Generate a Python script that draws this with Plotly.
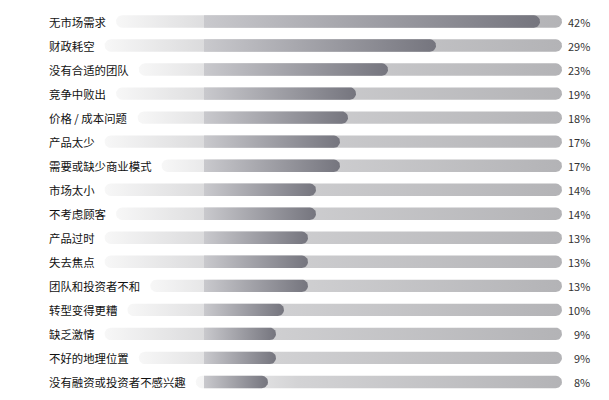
import numpy as np
import plotly.graph_objects as go

# ── Data ──────────────────────────────────────────────
reasons = [
    "无市场需求", "财政耗空", "没有合适的团队", "竞争中败出", "价格 / 成本问题",
    "产品太少", "需要或缺少商业模式", "市场太小", "不考虑顾客", "产品过时",
    "失去焦点", "团队和投资者不和", "转型变得更糟", "缺乏激情", "不好的地理位置",
    "没有融资或投资者不感兴趣",
]
shares = [42, 29, 23, 19, 18, 17, 17, 14, 14, 13, 13, 13, 10, 9, 9, 8]
track_max = 44.75

# ── Geometry helpers (page pixel -> axis units) ───────
# the page puts the plot 8px in from the top-left corner (body margin)
W, H = 609, 400
PAGE_OFF = 8
PX_ZERO, PX_PER_PCT = 204, 8.0
ROW0, ROW_STEP = 21.5, 24.03
LABEL_X, PCT_X = 47, 592
FONT = "Noto Sans CJK SC"
LABEL_SIZE = 11.4


def px_to_x(px):
    return (px - PX_ZERO) / PX_PER_PCT


def py_to_row(py):
    return (py - ROW0) / ROW_STEP


def text_px(s, size=LABEL_SIZE):
    return sum(size if ord(c) > 255 else size * 0.3 for c in s)


RX = 6.2 / PX_PER_PCT
RY = 6.2 / ROW_STEP


def pill(x0, x1, yc, round_left=True):
    t = np.linspace(-np.pi / 2, np.pi / 2, 14)
    right_x = (x1 - RX) + RX * np.cos(t)
    right_y = yc - RY * np.sin(t)
    if round_left:
        left_x = (x0 + RX) - RX * np.cos(t)
        left_y = yc + RY * np.sin(t)
    else:
        left_x = np.array([x0, x0])
        left_y = np.array([yc - RY, yc + RY])
    xs = np.concatenate([right_x, left_x, [right_x[0]]])
    ys = np.concatenate([right_y, left_y, [right_y[0]]])
    return xs, ys


fig = go.Figure()
annotations = []

for i, (label, v) in enumerate(zip(reasons, shares)):
    track_left = px_to_x(LABEL_X + text_px(label) + 12)
    xs, ys = pill(track_left, track_max, i)
    fig.add_trace(go.Scatter(
        x=xs, y=ys, mode="lines", line=dict(width=0), fill="toself",
        fillgradient=dict(type="horizontal", start=track_left, stop=track_max,
                          colorscale=[[0, "#f7f7f7"], [0.28, "#d3d3d5"], [1, "#b3b3b6"]]),
        hoverinfo="skip", showlegend=False,
    ))
    xs, ys = pill(0, v, i, round_left=False)
    fig.add_trace(go.Scatter(
        x=xs, y=ys, mode="lines", line=dict(width=0), fill="toself",
        fillgradient=dict(type="horizontal", start=0, stop=v,
                          colorscale=[[0, "#c9c9cd"], [1, "#75757e"]]),
        hoverinfo="skip", showlegend=False,
    ))
    annotations.append(dict(
        x=px_to_x(LABEL_X), y=i, text=label, xanchor="left", yanchor="middle",
        showarrow=False, font=dict(family=FONT, size=LABEL_SIZE, color="#111111"),
    ))
    annotations.append(dict(
        x=px_to_x(PCT_X), y=i, text=f"{v}%", xanchor="right", yanchor="middle",
        showarrow=False, font=dict(family=FONT, size=11, color="#333333"),
    ))

fig.update_layout(
    width=W, height=H,
    margin=dict(l=0, r=0, t=0, b=0),
    plot_bgcolor="white", paper_bgcolor="white",
    xaxis=dict(range=[px_to_x(PAGE_OFF), px_to_x(W + PAGE_OFF)], visible=False, fixedrange=True),
    yaxis=dict(range=[py_to_row(H + PAGE_OFF), py_to_row(PAGE_OFF)], visible=False, fixedrange=True),
    annotations=annotations,
    showlegend=False,
)

fig.write_html("out.html")
